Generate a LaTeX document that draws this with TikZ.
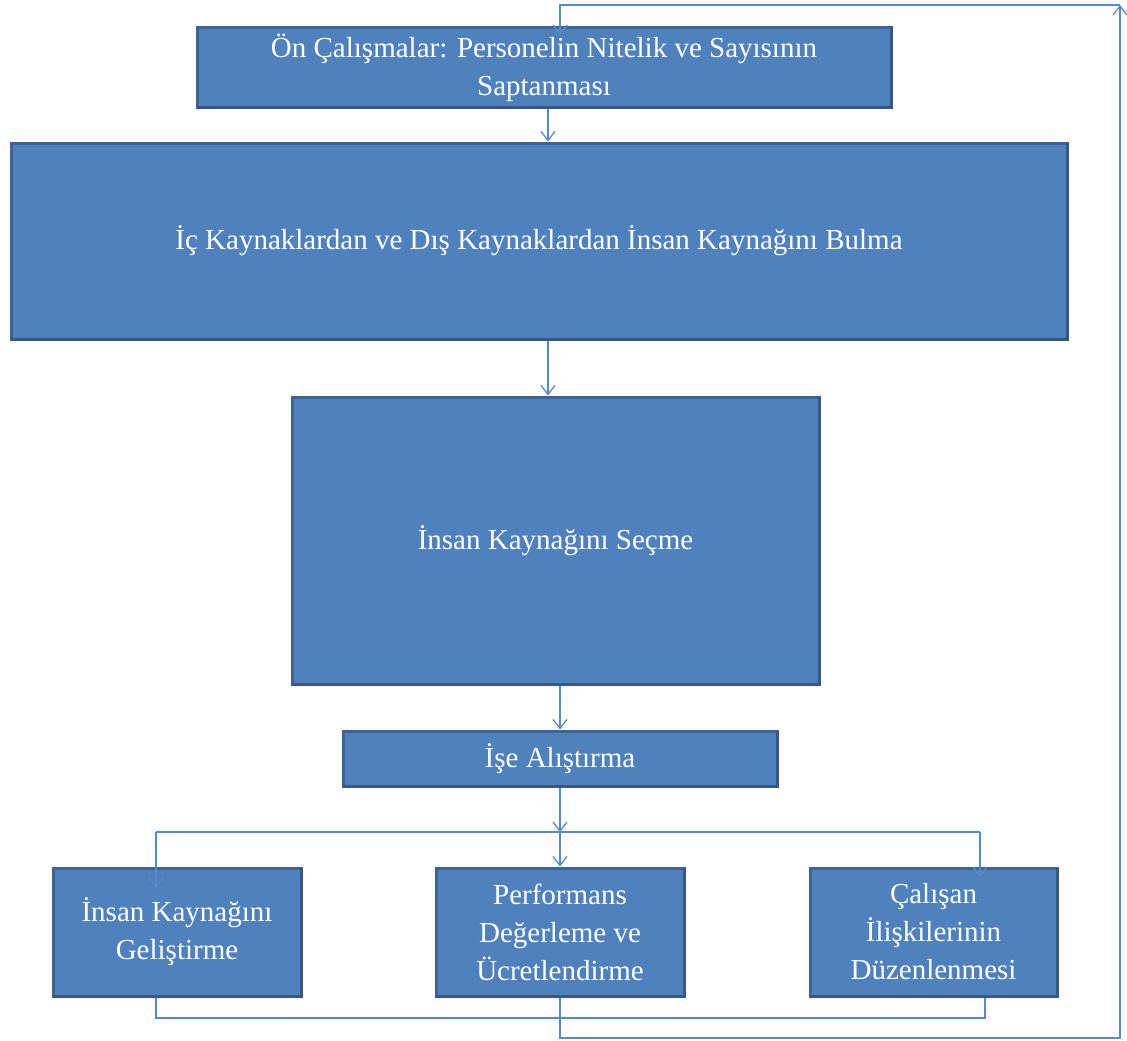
\documentclass[tikz,border=0pt]{standalone}
\usepackage{fontspec}
\setmainfont{Liberation Serif}
\usetikzlibrary{arrows.meta}
\definecolor{boxfill}{RGB}{79,129,189}
\definecolor{boxline}{RGB}{62,100,148}
\definecolor{boxdark}{RGB}{54,88,132}
\definecolor{connline}{RGB}{88,138,200}
\begin{document}
\begin{tikzpicture}[x=1pt,y=-1pt,
  box/.style={draw=boxline, fill=boxfill, line width=3pt, inner sep=0pt,
    text=white, align=center, font=\fontsize{29}{38}\selectfont},
  conn/.style={draw=connline, line width=1.5pt, -{Straight Barb[length=9pt,width=14pt,line width=1.3pt]}},
  plain/.style={draw=connline, line width=1.5pt},
  edge3d/.style={draw=boxdark, line width=3.5pt}
]
\useasboundingbox (0,0) rectangle (1127,1041);

\node[box, minimum width=694, minimum height=79] (b1) at (544,67.5)
  {Ön Çalışmalar: Personelin Nitelik ve Sayısının\\Saptanması};
\node[box, minimum width=1056, minimum height=196] (b2) at (539,241)
  {İç Kaynaklardan ve Dış Kaynaklardan İnsan Kaynağını Bulma};
\node[box, minimum width=527, minimum height=287] (b3) at (555.5,540.5)
  {İnsan Kaynağını Seçme};
\node[box, minimum width=434, minimum height=55] (b4) at (560,758.5)
  {İşe Alıştırma};
\node[box, minimum width=248, minimum height=128] (b5) at (177,932)
  {İnsan Kaynağını\\Geliştirme};
\node[box, minimum width=248, minimum height=128] (b6) at (560,932)
  {Performans\\Değerleme ve\\Ücretlendirme};
\node[box, minimum width=247, minimum height=128] (b7) at (933.5,932)
  {Çalışan\\İlişkilerinin\\Düzenlenmesi};

\foreach \n in {b1,b2,b3,b4,b5,b6,b7}
  \draw[edge3d] ([xshift=1pt,yshift=1pt]\n.south west) -- ([xshift=-1pt,yshift=1pt]\n.south east)
    -- ([xshift=-1pt,yshift=-1pt]\n.north east);

\coordinate (c1) at (548,0);
\coordinate (j) at (560,832);
\coordinate (hl) at (156,832);
\coordinate (hr) at (980,832);
\coordinate (tl) at (156,888);
\coordinate (tr) at (980,877);
\coordinate (bl) at (156,1018);
\coordinate (br) at (985,1018);
\coordinate (f1) at (560,1038);
\coordinate (f2) at (1120,1038);
\coordinate (f3) at (1120,5);
\coordinate (f4) at (560,5);
\coordinate (f5) at (560,35);

\draw[conn] (b1.south -| c1) -- (b2.north -| c1);
\draw[conn] (b2.south -| c1) -- (b3.north -| c1);
\draw[conn] (b3.south -| b4.north) -- (b4.north);
\draw[conn] (b4.south) -- (j);
\draw[conn] (j) -- (b6.north);
\draw[plain] (hl) -- (hr);
\draw[conn] (hl) -- (tl);
\draw[conn] (hr) -- (tr);
\draw[plain] (b5.south -| bl) -- (bl) -- (br) -- (b7.south -| br);
\draw[conn] (b6.south) -- (f1) -- (f2) -- (f3);
\draw[conn] (f3) -- (f4) -- (f5);
\end{tikzpicture}
\end{document}
